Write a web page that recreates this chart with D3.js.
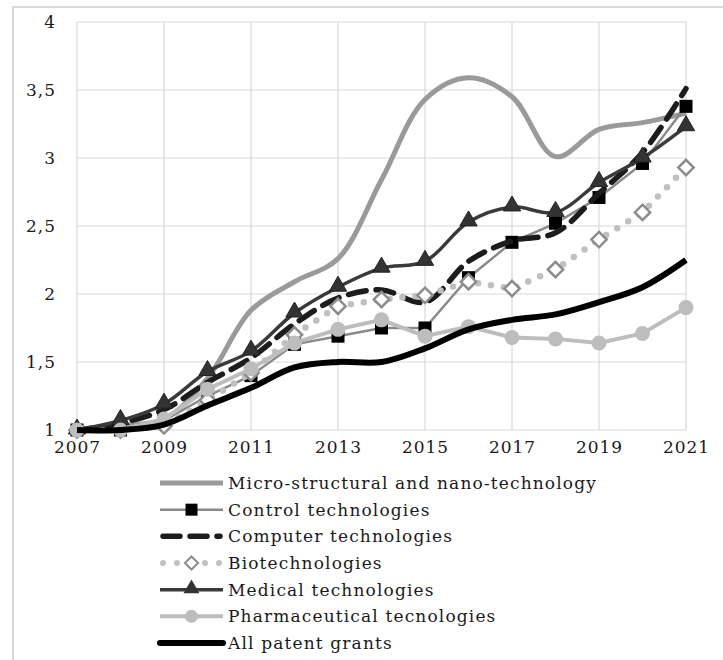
<!DOCTYPE html>
<html>
<head>
<meta charset="utf-8">
<script src="https://cdn.jsdelivr.net/npm/d3@7"></script>
<style>
  body { margin: 0; background: #fff; }
  text { font-family: "DejaVu Serif", "Liberation Serif", serif; }
</style>
</head>
<body>
<div id="chart"></div>
<script>
// data
var years = [2007, 2008, 2009, 2010, 2011, 2012, 2013, 2014, 2015, 2016, 2017, 2018, 2019, 2020, 2021];
var xTicks = [2007, 2009, 2011, 2013, 2015, 2017, 2019, 2021];
var yTicks = [1, 1.5, 2, 2.5, 3, 3.5, 4];

var microNano = [1.0, 1.03, 1.08, 1.38, 1.88, 2.09, 2.26, 2.84, 3.43, 3.59, 3.45, 3.01, 3.21, 3.26, 3.33];
var control   = [1.0, 1.0, 1.07, 1.25, 1.40, 1.63, 1.69, 1.75, 1.75, 2.12, 2.38, 2.52, 2.71, 2.96, 3.38];
var computer  = [1.0, 1.05, 1.15, 1.35, 1.53, 1.78, 1.97, 2.03, 1.94, 2.24, 2.39, 2.45, 2.74, 3.04, 3.51];
var biotech   = [1.0, 1.0, 1.03, 1.22, 1.42, 1.70, 1.91, 1.96, 1.99, 2.09, 2.04, 2.18, 2.40, 2.60, 2.93];
var medical   = [1.0, 1.07, 1.19, 1.43, 1.58, 1.86, 2.05, 2.19, 2.24, 2.53, 2.64, 2.60, 2.82, 3.00, 3.23];
var pharma    = [1.0, 1.0, 1.08, 1.30, 1.45, 1.64, 1.74, 1.81, 1.69, 1.76, 1.68, 1.67, 1.64, 1.71, 1.90];
var allGrants = [1.0, 1.0, 1.04, 1.18, 1.31, 1.46, 1.50, 1.50, 1.60, 1.74, 1.81, 1.85, 1.94, 2.05, 2.25];

var seriesNames = ["Micro-structural and nano-technology", "Control technologies", "Computer technologies",
  "Biotechnologies", "Medical technologies", "Pharmaceutical tecnologies", "All patent grants"];

var W = 723, H = 660;
var plot = {left: 77, right: 686, top: 22, bottom: 430};

var svg = d3.select("#chart").append("svg")
  .attr("width", W)
  .attr("height", H);

// outer frame (top + left edges visible)
svg.append("path")
  .attr("d", "M13,660 L13,7 L723,7")
  .attr("fill", "none")
  .attr("stroke", "#d9d9d9")
  .attr("stroke-width", 2);

var x = d3.scaleLinear().domain([2007, 2021]).range([plot.left, plot.right]);
var y = d3.scaleLinear().domain([1, 4]).range([plot.bottom, plot.top]);

// grid
var grid = svg.append("g");
grid.selectAll(".hg").data(yTicks).enter().append("line")
  .attr("x1", plot.left).attr("x2", plot.right)
  .attr("y1", function(d) { return y(d); }).attr("y2", function(d) { return y(d); })
  .attr("stroke", "#d9d9d9").attr("stroke-width", 1.2);
grid.selectAll(".vg").data(xTicks).enter().append("line")
  .attr("y1", plot.top).attr("y2", plot.bottom)
  .attr("x1", function(d) { return x(d); }).attr("x2", function(d) { return x(d); })
  .attr("stroke", "#d9d9d9").attr("stroke-width", 1.2);

// axes (labels only)
var fmt = function(d) { return String(d).replace(".", ","); };
var yAxis = svg.append("g")
  .attr("transform", "translate(" + (plot.left - 21) + ",0)")
  .call(d3.axisLeft(y).tickValues(yTicks).tickFormat(fmt).tickSize(0).tickPadding(0));
var xAxis = svg.append("g")
  .attr("transform", "translate(0," + (plot.bottom + 9) + ")")
  .call(d3.axisBottom(x).tickValues(xTicks).tickFormat(d3.format("d")).tickSize(0).tickPadding(2));
[xAxis, yAxis].forEach(function(a) {
  a.select(".domain").remove();
  a.selectAll("text").attr("font-size", 17).attr("fill", "#1a1a1a")
    .style("font-family", "DejaVu Serif, serif").style("letter-spacing", "1px");
});

function pts(vals) { return years.map(function(yr, i) { return [yr, vals[i]]; }); }

var smooth = d3.line().x(function(d) { return x(d[0]); }).y(function(d) { return y(d[1]); })
  .curve(d3.curveCatmullRom.alpha(0.5));
var straight = d3.line().x(function(d) { return x(d[0]); }).y(function(d) { return y(d[1]); });

var series = svg.append("g");

// micro-structural
series.append("path").attr("d", smooth(pts(microNano)))
  .attr("fill", "none").attr("stroke", "#9a9a9a").attr("stroke-width", 5);

// control
series.append("path").attr("d", straight(pts(control)))
  .attr("fill", "none").attr("stroke", "#8a8a8a").attr("stroke-width", 2.5);
series.selectAll(".sq").data(pts(control)).enter().append("rect")
  .attr("x", function(d) { return x(d[0]) - 6.5; })
  .attr("y", function(d) { return y(d[1]) - 6.5; })
  .attr("width", 13).attr("height", 13).attr("fill", "#000");

// computer
series.append("path").attr("d", smooth(pts(computer)))
  .attr("fill", "none").attr("stroke", "#1c1c1c").attr("stroke-width", 5.5)
  .attr("stroke-dasharray", "18,10").attr("stroke-linecap", "round");

// biotech
series.append("path").attr("d", straight(pts(biotech)))
  .attr("fill", "none").attr("stroke", "#c0c0c0").attr("stroke-width", 6.5)
  .attr("stroke-dasharray", "0,13").attr("stroke-linecap", "round");
series.selectAll(".dm").data(pts(biotech)).enter().append("path")
  .attr("d", d3.symbol().type(d3.symbolDiamond2).size(150))
  .attr("transform", function(d) { return "translate(" + x(d[0]) + "," + y(d[1]) + ")"; })
  .attr("fill", "#fff").attr("stroke", "#8c8c8c").attr("stroke-width", 2.5);

// medical
series.append("path").attr("d", smooth(pts(medical)))
  .attr("fill", "none").attr("stroke", "#3a3a3a").attr("stroke-width", 3.5);
series.selectAll(".tr").data(pts(medical)).enter().append("path")
  .attr("d", d3.symbol().type(d3.symbolTriangle).size(130))
  .attr("transform", function(d) { return "translate(" + x(d[0]) + "," + (y(d[1]) - 1) + ")"; })
  .attr("fill", "#333").attr("stroke", "#222").attr("stroke-width", 1);

// pharmaceutical
series.append("path").attr("d", straight(pts(pharma)))
  .attr("fill", "none").attr("stroke", "#bdbdbd").attr("stroke-width", 4);
series.selectAll(".ci").data(pts(pharma)).enter().append("circle")
  .attr("cx", function(d) { return x(d[0]); })
  .attr("cy", function(d) { return y(d[1]); })
  .attr("r", 7.5).attr("fill", "#bdbdbd");

// all patent grants
series.append("path").attr("d", smooth(pts(allGrants)))
  .attr("fill", "none").attr("stroke", "#000").attr("stroke-width", 6);

// legend
var legend = svg.append("g");
var rowY = d3.scaleLinear().domain([0, 6]).range([483, 643]);
var lx0 = 160, lx1 = 223;
seriesNames.forEach(function(name, i) {
  var g = legend.append("g").attr("transform", "translate(0," + rowY(i) + ")");
  var mid = (lx0 + lx1) / 2;
  if (i === 0) {
    g.append("line").attr("x1", lx0).attr("x2", lx1).attr("stroke", "#9a9a9a").attr("stroke-width", 5);
  } else if (i === 1) {
    g.append("line").attr("x1", lx0).attr("x2", lx1).attr("stroke", "#8a8a8a").attr("stroke-width", 2.5);
    g.append("rect").attr("x", mid - 6).attr("y", -6).attr("width", 12).attr("height", 12).attr("fill", "#000");
  } else if (i === 2) {
    g.append("line").attr("x1", lx0 + 3).attr("x2", lx1 - 3).attr("stroke", "#1c1c1c").attr("stroke-width", 5.5)
      .attr("stroke-dasharray", "17,10").attr("stroke-linecap", "round");
  } else if (i === 3) {
    g.append("line").attr("x1", lx0 + 3).attr("x2", lx1 - 3).attr("stroke", "#c0c0c0").attr("stroke-width", 6)
      .attr("stroke-dasharray", "0,14").attr("stroke-linecap", "round");
    g.append("path").attr("d", d3.symbol().type(d3.symbolDiamond2).size(110))
      .attr("transform", "translate(" + mid + ",0)")
      .attr("fill", "#fff").attr("stroke", "#8c8c8c").attr("stroke-width", 2);
  } else if (i === 4) {
    g.append("line").attr("x1", lx0).attr("x2", lx1).attr("stroke", "#3a3a3a").attr("stroke-width", 3.5);
    g.append("path").attr("d", d3.symbol().type(d3.symbolTriangle).size(110))
      .attr("transform", "translate(" + mid + ",-1)").attr("fill", "#333");
  } else if (i === 5) {
    g.append("line").attr("x1", lx0).attr("x2", lx1).attr("stroke", "#bdbdbd").attr("stroke-width", 4);
    g.append("circle").attr("cx", mid).attr("r", 6.5).attr("fill", "#bdbdbd");
  } else {
    g.append("line").attr("x1", lx0).attr("x2", lx1).attr("stroke", "#000").attr("stroke-width", 6)
      .attr("stroke-linecap", "round");
  }
  g.append("text").attr("x", lx1 + 5).attr("y", 6)
    .attr("font-size", 17).attr("fill", "#1a1a1a").style("letter-spacing", "1.15px").text(name);
});
</script>
</body>
</html>
